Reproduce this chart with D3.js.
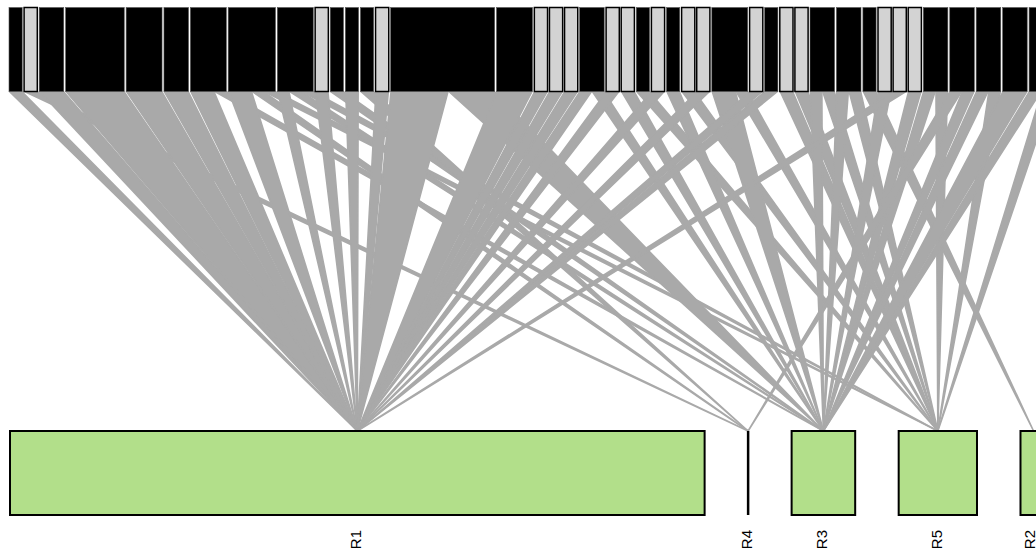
<!DOCTYPE html>
<meta charset="utf-8">
<script src="https://d3js.org/d3.v7.min.js"></script>
<style>
  body { margin: 0; background: #fff; }
  text { font-family: "Liberation Sans", Arial, sans-serif; }
</style>
<body>
<div id="web"></div>
<script>

// lower level (resources), in drawing order
var lowerNames = ["R1", "R4", "R3", "R5", "R2"];
var lowerAbun = [61.2, 0, 5.6, 6.9, 2.3];

// upper level group: "a" = black box, "b" = light box
var upperGroup = ["a","b","a","a","a","a","a","a","a","b",
                  "a","a","a","b","a","a","b","b","b","a",
                  "b","b","a","b","a","b","b","a","b","a",
                  "b","b","a","a","a","b","b","b","a","a",
                  "a","a","a"];

// interactions: one row per upper box, columns follow lowerNames
var web = [
  [1,0,0,0,0], [0,1,0,0,0], [2,0,0,0,0], [5,0,0,0,0], [3,0,0,0,0],
  [2,0,0,0,0], [2,0,1,0,0], [2,1,0,1,0], [1,0,1,1,0], [1,0,0,0,0],
  [0,0,1,0,0], [1,0,0,0,0], [0,1,0,0,0], [1,0,0,0,0], [5,0,4,0,0],
  [3,0,0,0,0], [1,0,0,0,0], [1,0,0,0,0], [1,0,0,0,0], [1,0,1,0,0],
  [1,0,0,0,0], [0,0,1,0,0], [0,0,0,1,0], [1,0,0,0,0], [0,0,1,0,0],
  [0,0,0,1,0], [1,0,0,0,0], [0,0,2,1,0], [1,0,0,0,0], [1,0,0,0,0],
  [0,0,0,1,0], [0,0,0,1,0], [0,0,1,1,0], [0,0,1,1,0], [0,0,0,0,1],
  [0,0,1,0,0], [1,0,0,0,0], [0,0,1,0,0], [0,0,1,1,0], [0,1,1,0,0],
  [0,0,1,1,0], [0,0,2,0,0], [0,0,1,1,0]
];

var width = 1036, height = 559;
var topY = 7.5, boxH = 84, lowY = 431;

var svg = d3.select("#web").append("svg")
  .attr("width", width)
  .attr("height", height);

// one unit of interaction / abundance in pixels
var unit = d3.scaleLinear().domain([0, 1]).range([0, 11.35]);
var colour = d3.scaleOrdinal().domain(["a", "b"]).range(["black", "lightgrey"]);

// lay out the lower boxes
var lower = [];
var lx = 10;
lowerNames.forEach(function(name, i) {
  var w = unit(lowerAbun[i]);
  lower.push({ name: name, x: lx, w: w, cx: lx + w / 2 });
  lx += w + 43.5;
});

// lay out the upper boxes and the links leaving them
var upper = [];
var links = [];
var ux = 9;
web.forEach(function(row, i) {
  var total = d3.sum(row);
  var w = unit(total) + 1.85;
  upper.push({ x: ux, w: w, group: upperGroup[i] });
  var sx = ux;
  row.forEach(function(v, j) {
    if (v > 0) {
      var lw = w * v / total;
      links.push({ x0: sx, x1: sx + lw, to: lower[j].cx });
      sx += lw;
    }
  });
  ux += w + 1.9;
});

var yBot = topY + boxH;

svg.append("g").selectAll("path")
  .data(links)
  .enter().append("path")
  .attr("d", function(d) {
    return "M" + (d.x0 + 0.4) + "," + yBot + "L" + (d.x1 - 0.4) + "," + yBot +
           "L" + d.to + "," + lowY + "Z";
  })
  .attr("fill", "darkgrey")
  .attr("stroke", "darkgrey")
  .attr("stroke-linejoin", "round")
  .attr("stroke-width", 1.6);

svg.append("g").selectAll("rect")
  .data(upper)
  .enter().append("rect")
  .attr("x", function(d) { return d.x; })
  .attr("y", topY)
  .attr("width", function(d) { return d.w; })
  .attr("height", boxH)
  .attr("fill", function(d) { return colour(d.group); })
  .attr("stroke", function(d) { return d.group == "b" ? "black" : "#555"; })
  .attr("stroke-width", function(d) { return d.group == "b" ? 1.5 : 0.6; });

// lower boxes as closed paths so a zero-width box still shows its outline
svg.append("g").selectAll("path")
  .data(lower)
  .enter().append("path")
  .attr("d", function(d) {
    return "M" + d.x + "," + lowY + "h" + d.w + "v" + boxH + "h" + (-d.w) + "Z";
  })
  .attr("fill", "#B2DF8A")
  .attr("stroke", "black")
  .attr("stroke-width", function(d) { return d.w > 0 ? 2 : 2.5; });

svg.append("g").selectAll("text")
  .data(lower)
  .enter().append("text")
  .attr("transform", function(d) {
    return "translate(" + Math.min(d.cx - 1.5, 1029) + ",530) rotate(-90)";
  })
  .attr("text-anchor", "end")
  .attr("dominant-baseline", "central")
  .style("font-size", "15px")
  .text(function(d) { return d.name; });

</script>
</body>
